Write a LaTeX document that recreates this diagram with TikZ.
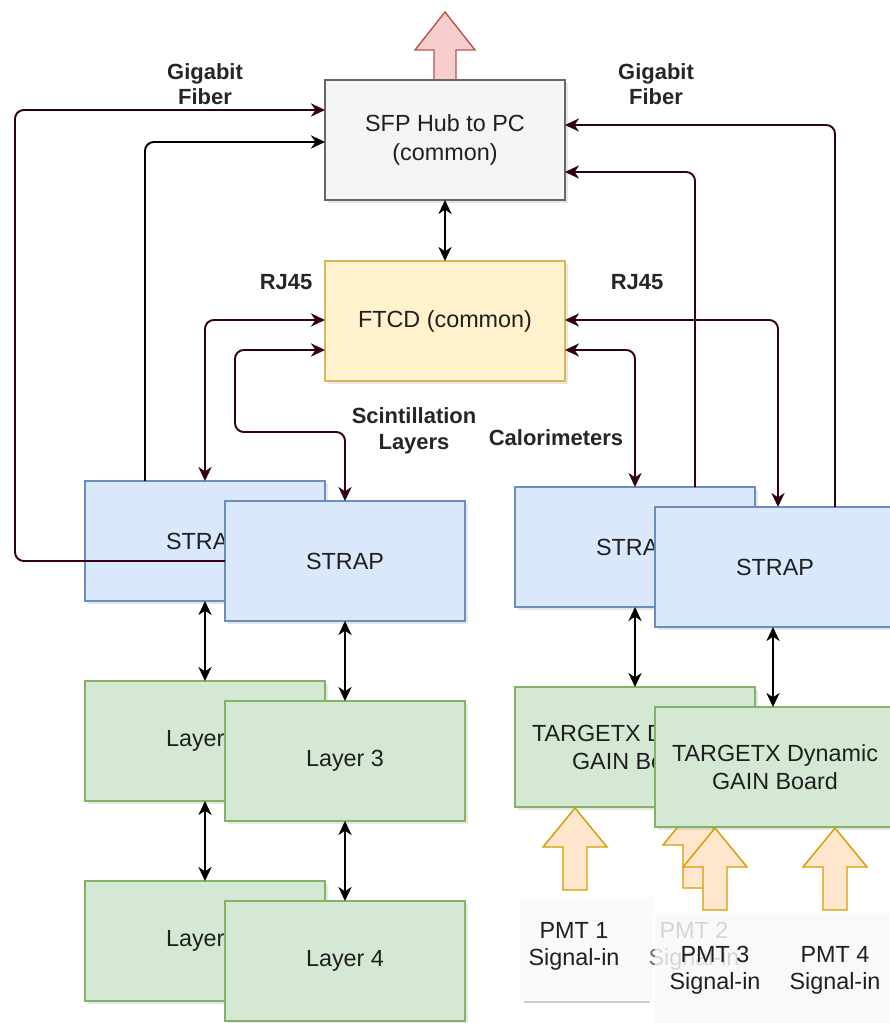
\documentclass[tikz,border=0pt]{standalone}
\usepackage{fontspec}
\setmainfont{Liberation Sans}
\usetikzlibrary{arrows.meta,shadows}
\definecolor{wire}{HTML}{33001A}
\definecolor{hubfill}{HTML}{F5F5F5}\definecolor{hubline}{HTML}{666666}
\definecolor{ftcdfill}{HTML}{FFF2CC}\definecolor{ftcdline}{HTML}{D6B656}
\definecolor{strapfill}{HTML}{DAE8FC}\definecolor{strapline}{HTML}{6C8EBF}
\definecolor{layerfill}{HTML}{D5E8D4}\definecolor{layerline}{HTML}{82B366}
\definecolor{pcfill}{HTML}{F8CECC}\definecolor{pcline}{HTML}{B85450}
\definecolor{pmtfill}{HTML}{FFE6CC}\definecolor{pmtline}{HTML}{D79B00}
\begin{document}
\begin{tikzpicture}[x=0.02cm,y=-0.02cm,inner sep=0pt,outer sep=0pt,
box/.style={draw,rectangle,minimum width=4.8cm,minimum height=2.4cm,line width=0.8pt,align=center,
  font=\fontsize{13.3}{16}\selectfont,text=black!88,
  drop shadow={shadow xshift=1.5pt,shadow yshift=-1.5pt,opacity=0.2}},
hubbox/.style={box,fill=hubfill,draw=hubline},
ftcdbox/.style={box,fill=ftcdfill,draw=ftcdline},
strapbox/.style={box,fill=strapfill,draw=strapline},
layerbox/.style={box,fill=layerfill,draw=layerline},
tag/.style={font=\bfseries\fontsize{12.5}{14.5}\selectfont,align=center,text=black!85},
pmt/.style={font=\fontsize{13.3}{15.5}\selectfont,align=center,text=black!88},
link/.style={line width=1.1pt,rounded corners=5pt},
fiber/.style={link,draw=wire,-{Stealth[length=8pt,width=7.5pt,inset=2.5pt]}},
fiberblk/.style={link,draw=black,-{Stealth[length=8pt,width=7.5pt,inset=2.5pt]}},
rj/.style={link,draw=wire,{Stealth[length=8pt,width=7.5pt,inset=2.5pt]}-{Stealth[length=8pt,width=7.5pt,inset=2.5pt]}},
bus/.style={link,draw=black,{Stealth[length=8pt,width=7.5pt,inset=2.5pt]}-{Stealth[length=8pt,width=7.5pt,inset=2.5pt]}},
inarrow/.style={fill=pmtfill,draw=pmtline,line width=0.8pt,line join=miter}]
\useasboundingbox (0,0) rectangle (889,1023);
\fill[black!2] (520,897) rectangle (653,1000);
\draw[black!20,line width=1.5pt] (524,1002) -- (650,1002);
\draw[fill=pcfill,draw=pcline,line width=0.8pt] (445,12) -- ++(30,38) -- ++(-19,0) -- ++(0,30)
  -- ++(-22,0) -- ++(0,-30) -- ++(-19,0) -- cycle;
\draw (445,140) node[hubbox] (hub) {SFP Hub to PC\\(common)};
\draw (445,321) node[ftcdbox] (ftcd) {FTCD (common)};
\draw (205,541) node[strapbox] (strapA) {STRAP};
\draw (345,561) node[strapbox] (strapB) {STRAP};
\draw (635,547) node[strapbox] (strapC) {STRAP};
\draw (775,567) node[strapbox] (strapD) {STRAP};
\draw (205,741) node[layerbox] (layerA) {Layer 1};
\draw (345,761) node[layerbox] (layerB) {Layer 3};
\draw (205,941) node[layerbox] (layerC) {Layer 2};
\draw (345,961) node[layerbox] (layerD) {Layer 4};
\draw (635,747) node[layerbox] (tgxA) {TARGETX Dynamic\\GAIN Board};
\foreach \tx/\ty in {575/808,695/806}
  \draw[inarrow] (\tx,\ty) -- ++(32,39) -- ++(-20,0) -- ++(0,43) -- ++(-24,0) -- ++(0,-43) -- ++(-20,0) -- cycle;
\draw (775,767) node[layerbox] (tgxB) {TARGETX Dynamic\\GAIN Board};
\foreach \tx/\ty in {715/828,835/828}
  \draw[inarrow] (\tx,\ty) -- ++(32,39) -- ++(-20,0) -- ++(0,43) -- ++(-24,0) -- ++(0,-43) -- ++(-20,0) -- cycle;
\draw[fiber] (strapB.west) -| (15,110) -- (hub.west |- 0,110);
\draw[fiberblk] (145,0 |- strapA.north) |- (hub.west |- 0,142);
\draw[fiber] (835,0 |- strapD.north) |- (hub.east |- 0,125);
\draw[fiber] (695,0 |- strapC.north) |- (hub.east |- 0,172);
\draw[rj] (strapA.north) |- (ftcd.west |- 0,320);
\draw[rj] (strapB.north) |- (235,432) |- (ftcd.west |- 0,350);
\draw[rj] (778,0 |- strapD.north) |- (ftcd.east |- 0,320);
\draw[rj] (strapC.north) |- (ftcd.east |- 0,350);
\draw[bus] (hub.south) -- (ftcd.north);
\draw[bus] (strapA.south) -- (layerA.north);
\draw[bus] (strapB.south) -- (layerB.north);
\draw[bus] (layerA.south) -- (layerC.north);
\draw[bus] (layerB.south) -- (layerD.north);
\draw[bus] (strapC.south) -- (tgxA.north);
\draw[bus] (773,0 |- strapD.south) -- (773,0 |- tgxB.north);
\draw (205,84) node[tag] (gigL) {Gigabit\\Fiber};
\draw (656,84) node[tag] (gigR) {Gigabit\\Fiber};
\draw (286,282) node[tag] (rjL) {RJ45};
\draw (637,282) node[tag] (rjR) {RJ45};
\draw (414,431) node[tag] (scint) {Scintillation\\Layers};
\draw (556,438) node[tag] (calo) {Calorimeters};
\draw (574,946) node[pmt] (pmt1) {PMT 1\\Signal-in};
\draw (694,946) node[pmt,text=black!55] (pmt2) {PMT 2\\Signal-in};
\fill[black!3,opacity=0.75] (655,913) rectangle (889,1023);
\draw (715,970) node[pmt] (pmt3) {PMT 3\\Signal-in};
\draw (835,970) node[pmt] (pmt4) {PMT 4\\Signal-in};
\end{tikzpicture}
\end{document}
